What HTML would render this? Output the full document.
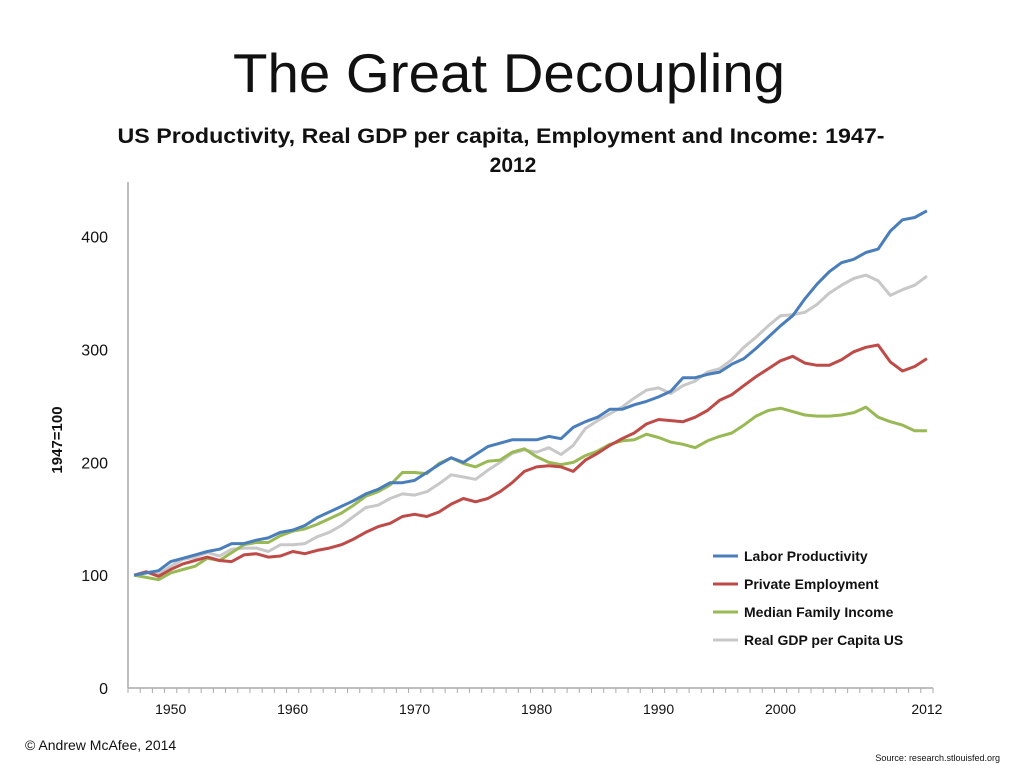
<!DOCTYPE html>
<html><head><meta charset="utf-8"><style>
body{margin:0;background:#fff;}
svg{display:block;font-family:"Liberation Sans",sans-serif;}
</style></head><body>
<svg id="chart" width="1021" height="765">
<text x="509" y="92" text-anchor="middle" font-size="55" textLength="552" lengthAdjust="spacingAndGlyphs" fill="#111">The Great Decoupling</text>
<text x="501" y="143" text-anchor="middle" font-size="21" font-weight="bold" textLength="767" lengthAdjust="spacingAndGlyphs" fill="#111">US Productivity, Real GDP per capita, Employment and Income: 1947-</text>
<text x="513" y="172" text-anchor="middle" font-size="21" font-weight="bold" fill="#111">2012</text>
<text transform="translate(62,440) rotate(-90)" text-anchor="middle" font-size="15" font-weight="bold" fill="#111">1947=100</text>
<g id="axes"></g>
<g id="series"></g>
<g id="legend"></g>
<text x="25" y="750" font-size="14" fill="#111">© Andrew McAfee, 2014</text>
<text x="1000" y="761" text-anchor="end" font-size="9" fill="#111">Source: research.stlouisfed.org</text>
</svg>
<script>
const years=[];for(let y=1947;y<=2012;y++)years.push(y);
const xTickLabels=["1950","1960","1970","1980","1990","2000","2012"];
const yTicks=[0,100,200,300,400];
const seriesNames=["Labor Productivity","Private Employment","Median Family Income","Real GDP per Capita US"];
const productivity=[100,102,104,112,115,118,121,123,128,128,131,133,138,140,144,151,156,161,166,172,176,182,182,184,191,198,204,200,207,214,217,220,220,220,223,221,231,236,240,247,247,251,254,258,263,275,275,278,280,287,292,301,311,321,330,345,358,369,377,380,386,389,405,415,417,423];
const employment=[100,103,99,105,110,113,116,113,112,118,119,116,117,121,119,122,124,127,132,138,143,146,152,154,152,156,163,168,165,168,174,182,192,196,197,196,192,202,208,215,221,226,234,238,237,236,240,246,255,260,268,276,283,290,294,288,286,286,291,298,302,304,289,281,285,292];
const income=[100,98,96,102,105,108,115,113,120,127,129,129,135,139,141,145,150,155,162,170,174,180,191,191,190,199,204,199,196,201,202,209,212,205,200,198,200,206,210,216,219,220,225,222,218,216,213,219,223,226,233,241,246,248,245,242,241,241,242,244,249,240,236,233,228,228];
const gdp=[100,103,101,108,114,116,120,117,123,124,124,121,127,127,128,134,138,144,152,160,162,168,172,171,174,181,189,187,185,193,200,208,211,209,213,207,215,230,237,243,249,257,264,266,261,268,272,280,283,291,302,311,321,330,331,333,340,350,357,363,366,361,348,353,357,365];
const colors=["#4a7ebb","#be4b48","#98b954","#c8c8c8"];
const NS="http://www.w3.org/2000/svg";
const L=128,R=933,T=182,B=688,YMAX=448.5;
const cw=(R-L)/years.length;
const xs=i=>L+cw*(i+0.5);
const ys=v=>B-(v/YMAX)*(B-T);
function mk(tag,attrs,parent){const e=document.createElementNS(NS,tag);for(const k in attrs)e.setAttribute(k,attrs[k]);parent.appendChild(e);return e;}
const ax=document.getElementById('axes');
let e=mk('line',{x1:L,y1:T,x2:L,y2:B,stroke:'#aaa','stroke-width':1.5},ax);


e=mk('line',{x1:L,y1:B,x2:R,y2:B,stroke:'#aaa','stroke-width':1.5},ax);


for(let i=0;i<=years.length;i++){const t=mk('line',{x1:L+cw*i,y1:B,x2:L+cw*i,y2:B+5,stroke:'#aaa'},ax);

}
yTicks.forEach(v=>{const t=mk('text',{x:108,y:ys(v)+6,'text-anchor':'end','font-size':16,fill:'#111'},ax);t.textContent=v;

});
xTickLabels.forEach(lb=>{const i=years.indexOf(+lb);const t=mk('text',{x:xs(i),y:714,'text-anchor':'middle','font-size':14,fill:'#111'},ax);t.textContent=lb;

});
const sg=document.getElementById('series');
const data=[productivity,employment,income,gdp];
const order=[3,2,1,0];
order.forEach(s=>{const d=data[s].map((v,i)=>(i?'L':'M')+xs(i).toFixed(1)+','+ys(v).toFixed(1)).join('');
const p=mk('path',{d:d,fill:'none',stroke:colors[s],'stroke-width':3,'stroke-linejoin':'round'},sg);

});
const lg=document.getElementById('legend');
seriesNames.forEach((n,i)=>{const y=556+i*28;
const g=mk('g',{},lg);


mk('line',{x1:713,y1:y,x2:738,y2:y,stroke:colors[i],'stroke-width':3},g);
const t=mk('text',{x:744,y:y+5,'font-size':14,'font-weight':'bold',fill:'#111'},g);t.textContent=n;});
</script>
</body></html>
